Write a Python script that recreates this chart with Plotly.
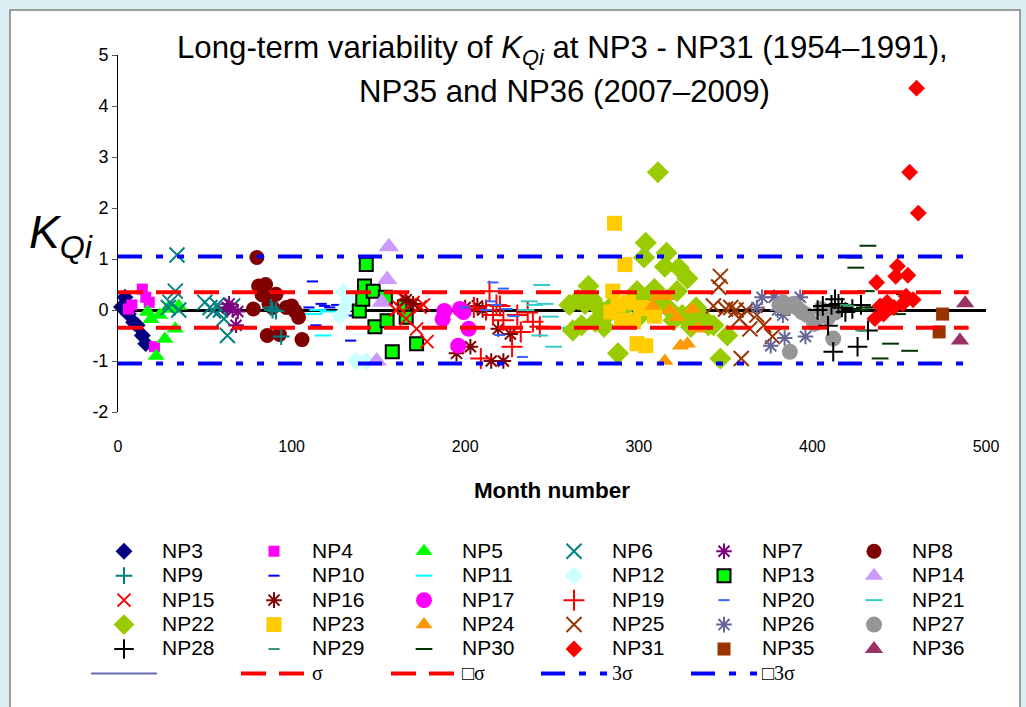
import plotly.graph_objects as go

# month number / K_Qi, one pair of lists per station
np3_x = [2, 4, 6, 9, 11, 14, 16]
np3_y = [0.06, 0.25, -0.08, -0.24, -0.3, -0.5, -0.66]
np4_x = [6, 8, 14, 16, 18, 21]
np4_y = [0.02, 0.1, 0.41, 0.25, 0.15, -0.72]
np5_x = [17, 19, 22, 24, 27, 29, 31, 33, 35]
np5_y = [-0.04, -0.18, -0.9, -0.1, -0.57, 0.05, 0.02, -0.37, 0.08]
np6_x = [29, 30, 33, 34, 35, 50, 53, 55, 57, 59, 61, 63, 66]
np6_y = [0.05, 0.15, 0.37, 1.08, 0.0, 0.15, 0.05, -0.02, 0.1, 0.0, -0.17, -0.5, 0.08]
np7_x = [63, 64, 66, 68, 69]
np7_y = [0.05, 0.12, 0.0, -0.3, -0.03]
np8_x = [78, 80, 81, 83, 85, 86, 87, 89, 91, 93, 97, 100, 102, 104, 106]
np8_y = [0.02, 1.03, 0.47, 0.3, 0.5, -0.5, 0.12, 0.05, 0.31, -0.48, 0.05, 0.08, -0.02, -0.14, -0.58]
np9_x = [88, 89, 91, 94]
np9_y = [0.05, 0.0, -0.02, -0.52]
np10_x = [110, 112, 114, 117, 119, 122, 126, 130, 132, 134]
np10_y = [0.05, 0.56, -0.3, 0.12, 0.08, 0.05, 0.1, 0.02, -0.11, -0.6]
np11_x = [113, 115, 118, 121]
np11_y = [-0.08, 0.0, -0.5, -0.03]
np12_x = [128, 130, 131, 133, 137, 143]
np12_y = [-0.12, 0.35, 0.05, 0.2, -1.0, -1.0]
np13_x = [139, 141, 142, 143, 147, 148, 154, 155, 158, 165, 166, 172]
np13_y = [-0.02, 0.21, 0.47, 0.89, 0.37, -0.33, 0.25, -0.21, -0.82, 0.06, -0.14, -0.66]
np14_x = [149, 152, 155, 156]
np14_y = [-1.0, 0.15, 0.6, 1.24]
np15_x = [160, 162, 164, 166, 168, 170, 172, 174, 176, 178]
np15_y = [0.0, 0.05, 0.25, -0.17, 0.1, 0.15, -0.37, 0.06, 0.1, -0.62]
np16_x = [166, 170, 195, 200, 203, 207, 210, 215, 219, 222, 226]
np16_y = [0.2, 0.12, -0.85, 0.05, -0.72, 0.08, 0.0, -1.0, -0.37, -1.0, -0.47]
np17_x = [187, 188, 196, 197, 199, 202]
np17_y = [-0.18, -0.02, -0.7, 0.02, -0.04, -0.37]
np19_x = [205, 209, 212, 214, 216, 218, 220, 222, 227, 230, 232, 236, 239, 243]
np19_y = [0.05, -0.95, 0.0, 0.37, -0.1, 0.1, 0.08, -0.2, -0.72, -0.1, -0.43, -0.05, -0.23, -0.33]
np20_x = [200, 212, 215, 216, 218, 220, 222, 224, 228, 233]
np20_y = [0.05, 0.0, 0.17, 0.54, 0.1, -0.49, 0.42, 0.02, -0.12, -0.92]
np21_x = [235, 237, 240, 243, 244, 246, 249, 251, 256]
np21_y = [0.0, 0.17, 0.1, -0.5, 0.49, 0.12, -0.13, -0.72, -0.35]
np22_x = [260, 262, 265, 267, 269, 271, 273, 275, 278, 280, 283, 285, 288, 292, 296, 299, 301, 303, 304,
          306, 309, 311, 313, 315, 316, 318, 320, 322, 323, 325, 328, 330, 333, 336, 340, 343, 347, 351]
np22_y = [0.1, -0.4, 0.2, -0.3, 0.12, 0.47, 0.21, -0.23, 0.0, -0.33, -0.05, 0.1, -0.85, 0.05, 0.2, 0.37, -0.1,
          1.03, 1.32, 0.2, 0.41, 2.7, 0.15, 0.85, 1.12, 0.0, -0.2, 0.37, 0.83, -0.1, 0.62, -0.33, 0.05, -0.12,
          -0.3, -0.3, -0.95, -0.5]
np23_x = [284, 285, 286, 288, 290, 292, 294, 297, 299, 301, 304, 305, 309]
np23_y = [-0.04, 0.37, 1.7, 0.1, -0.2, 0.89, 0.15, -0.23, -0.66, 0.05, -0.7, 0.03, -0.12]
np24_x = [308, 311, 315, 316, 318, 322, 324, 328, 331, 334]
np24_y = [0.08, 0.27, -1.0, 0.27, 0.0, -0.14, -0.7, -0.66, 0.02, -0.37]
np25_x = [343, 346, 347, 350, 353, 356, 358, 359, 362, 364, 368, 372, 377]
np25_y = [0.08, 0.45, 0.66, 0.02, 0.05, 0.0, -0.17, -0.95, 0.0, -0.37, -0.1, -0.3, -0.52]
np26_x = [368, 371, 376, 378, 380, 383, 384, 390, 393, 396]
np26_y = [0.05, 0.25, -0.7, 0.25, 0.0, -0.1, -0.55, 0.05, 0.25, -0.52]
np27_x = [381, 383, 385, 387, 389, 391, 394, 397, 401, 405, 409, 412, 413]
np27_y = [0.1, 0.15, 0.05, -0.82, 0.12, 0.05, -0.04, -0.1, -0.27, 0.02, -0.15, -0.56, -0.05]
np28_x = [403, 406, 409, 411, 412, 413, 415, 417, 419, 423, 426, 428, 432]
np28_y = [0.0, 0.08, -0.31, 0.1, -0.82, 0.21, 0.12, 0.05, -0.04, 0.02, -0.72, 0.1, -0.4]
np29_x = [419, 421, 423, 428]
np29_y = [0.1, 0.08, -0.37, -0.4]
np30_x = [424, 425, 428, 430, 431, 432, 435, 439, 445, 449, 453, 456]
np30_y = [1.03, 0.83, 0.0, 0.05, 0.37, 1.26, 0.05, -0.95, -0.66, -0.08, 0.31, -0.8]
np31_x = [436, 437, 439, 441, 443, 447, 448, 449, 452, 454, 455, 456, 458, 460, 461]
np31_y = [-0.17, 0.54, 0.08, -0.08, 0.15, 0.05, 0.66, 0.86, 0.12, 0.27, 0.68, 2.7, 0.2, 4.35, 1.9]
np35_x = [473, 475]
np35_y = [-0.43, -0.08]
np36_x = [485, 488]
np36_y = [-0.6, 0.13]

sigma = 0.35
sigma_x = [0, 490]

x_ticks = [0, 100, 200, 300, 400, 500]
y_ticks = [-2, -1, 0, 1, 2, 3, 4, 5]
y_ticktext = ["-2", "-1", "0", "1", "2", "3", "4", "5"]

# name, x, y, symbol, colour, size
stations = [
    ("NP3", np3_x, np3_y, "diamond", "#000080", 13),
    ("NP4", np4_x, np4_y, "square", "#FF00FF", 11),
    ("NP5", np5_x, np5_y, "triangle-up", "#00FF00", 15),
    ("NP6", np6_x, np6_y, "x-thin-open", "#008080", 15),
    ("NP7", np7_x, np7_y, "asterisk-open", "#800080", 13),
    ("NP8", np8_x, np8_y, "circle", "#800000", 15),
    ("NP9", np9_x, np9_y, "cross-thin-open", "#008080", 12),
    ("NP10", np10_x, np10_y, "line-ew-open", "#0000FF", 8),
    ("NP11", np11_x, np11_y, "line-ew-open", "#00FFFF", 12),
    ("NP12", np12_x, np12_y, "diamond", "#CCFFFF", 14),
    ("NP13", np13_x, np13_y, "square", "#00FF00", 13),
    ("NP14", np14_x, np14_y, "triangle-up", "#CC99FF", 18),
    ("NP15", np15_x, np15_y, "x-thin-open", "#FF0000", 13),
    ("NP16", np16_x, np16_y, "asterisk-open", "#800000", 13),
    ("NP17", np17_x, np17_y, "circle", "#FF00FF", 16),
    ("NP19", np19_x, np19_y, "cross-thin-open", "#FF0000", 15),
    ("NP20", np20_x, np20_y, "line-ew-open", "#3366FF", 8),
    ("NP21", np21_x, np21_y, "line-ew-open", "#33CCCC", 12),
    ("NP22", np22_x, np22_y, "diamond", "#99CC00", 17),
    ("NP23", np23_x, np23_y, "square", "#FFCC00", 15),
    ("NP24", np24_x, np24_y, "triangle-up", "#FF9900", 15),
    ("NP25", np25_x, np25_y, "x-thin-open", "#993300", 15),
    ("NP26", np26_x, np26_y, "asterisk-open", "#666699", 13),
    ("NP27", np27_x, np27_y, "circle", "#969696", 16),
    ("NP28", np28_x, np28_y, "cross-thin-open", "#000000", 14),
    ("NP29", np29_x, np29_y, "line-ew-open", "#339966", 8),
    ("NP30", np30_x, np30_y, "line-ew-open", "#003300", 12),
    ("NP31", np31_x, np31_y, "diamond", "#FF0000", 13),
    ("NP35", np35_x, np35_y, "square", "#993300", 13),
    ("NP36", np36_x, np36_y, "triangle-up", "#993366", 16),
]

FONT = "Liberation Sans, Arial, sans-serif"
SERIF = "Liberation Serif, Times New Roman, serif"

# plot area in pixels, used to place the paper-referenced extras
L, R, T, B = 118, 40, 55, 295
PW, PH = 1026 - L - R, 707 - T - B


def px(x):
    return (x - L) / PW


def py(y):
    return (707 - B - y) / PH


def big(txt, fam=FONT, size=21):
    return "<span style='font-size:%dpx;font-family:%s'>%s</span>" % (size, fam, txt)


fig = go.Figure()
for name, xs, ys, sym, col, size in stations:
    open_sym = sym.endswith("open")
    fig.add_trace(go.Scatter(
        x=xs, y=ys, name=big(name), mode="markers", cliponaxis=False,
        marker=dict(symbol=sym, color=col, size=size,
                    line=dict(color="#000000" if name == "NP13" else col,
                              width=2 if (open_sym or name == "NP13") else 0)),
    ))

# unnamed series that only shows up in the legend
fig.add_trace(go.Scatter(x=[None], y=[None], name=" ", mode="lines",
                         line=dict(color="#6B6BB5", width=2)))

sig_lines = [
    ("σ", sigma, "red", "25px,13px"),
    ("□σ", -sigma, "red", "25px,13px"),
    ("3σ", 3 * sigma, "#0000FF", "24px,14px,7px,14px,7px,14px"),
    ("□3σ", -3 * sigma, "#0000FF", "24px,14px,7px,14px,7px,14px"),
]
for label, lev, col, dash in sig_lines:
    fig.add_trace(go.Scatter(x=sigma_x, y=[lev, lev], name=big(label, SERIF, 20), mode="lines",
                             line=dict(color=col, width=4, dash=dash)))

fig.update_layout(
    width=1026, height=707, autosize=False,
    margin=dict(l=L, r=R, t=T, b=B),
    paper_bgcolor="#DAEEF3", plot_bgcolor="white",
    font=dict(family=FONT, color="black"),
    showlegend=True,
    legend=dict(orientation="h", x=px(86), xanchor="left", y=py(534), yanchor="top",
                entrywidth=69, entrywidthmode="pixels", itemwidth=66,
                font=dict(size=16.5, family=FONT), bgcolor="rgba(0,0,0,0)",
                traceorder="normal", itemclick=False),
    xaxis=dict(range=[0, 500], showline=False, showgrid=False, zeroline=False,
               tickvals=x_ticks, ticks="",
               ticklabelstandoff=23, tickfont=dict(size=16),
               title=dict(text="<b>Month number</b>", font=dict(size=22.5), standoff=28)),
    xaxis2=dict(overlaying="x", anchor="free", position=2 / 7, range=[0, 500],
                showline=False, showgrid=False, zeroline=False, showticklabels=False,
                ticks="outside", ticklen=5, tickwidth=2, tickcolor="black", tick0=0, dtick=10),
    xaxis3=dict(overlaying="x", anchor="free", position=2 / 7, range=[0, 500],
                showline=False, showgrid=False, zeroline=False, showticklabels=False,
                ticks="inside", ticklen=5, tickwidth=2, tickcolor="black", tick0=0, dtick=10),
    yaxis=dict(range=[-2, 5], tickvals=y_ticks, ticktext=y_ticktext,
               showgrid=False, showline=True, linecolor="black", linewidth=1,
               ticks="outside", ticklen=5, tickcolor="#555555", tickfont=dict(size=18),
               zeroline=True, zerolinecolor="black", zerolinewidth=3),
    shapes=[dict(type="rect", xref="paper", yref="paper", layer="below",
                 x0=px(10), x1=px(1020), y0=py(730), y1=py(10),
                 fillcolor="white", line=dict(color="#7F7F7F", width=1.5))],
    annotations=[
        dict(text="Long-term variability of <i>K</i><sub><i>Qi</i></sub> at NP3 - NP31 (1954\u20131991),",
             xref="paper", yref="paper", x=px(562), y=py(50),
             showarrow=False, font=dict(size=31.2), xanchor="center", yanchor="middle"),
        dict(text="NP35 and NP36 (2007\u20132009)",
             xref="paper", yref="paper", x=px(564), y=py(91),
             showarrow=False, font=dict(size=31.2), xanchor="center", yanchor="middle"),
        dict(text="<i>K</i><sub><i>Qi</i></sub>", xref="paper", yref="paper",
             x=px(61), y=py(235), showarrow=False,
             font=dict(size=46), xanchor="center", yanchor="middle"),
    ],
)

# the page body has a default 8px margin; drop it so the figure sits at the window origin
fig.write_html("out.html", config={"displayModeBar": False},
               post_script="document.body.style.margin='0';")
